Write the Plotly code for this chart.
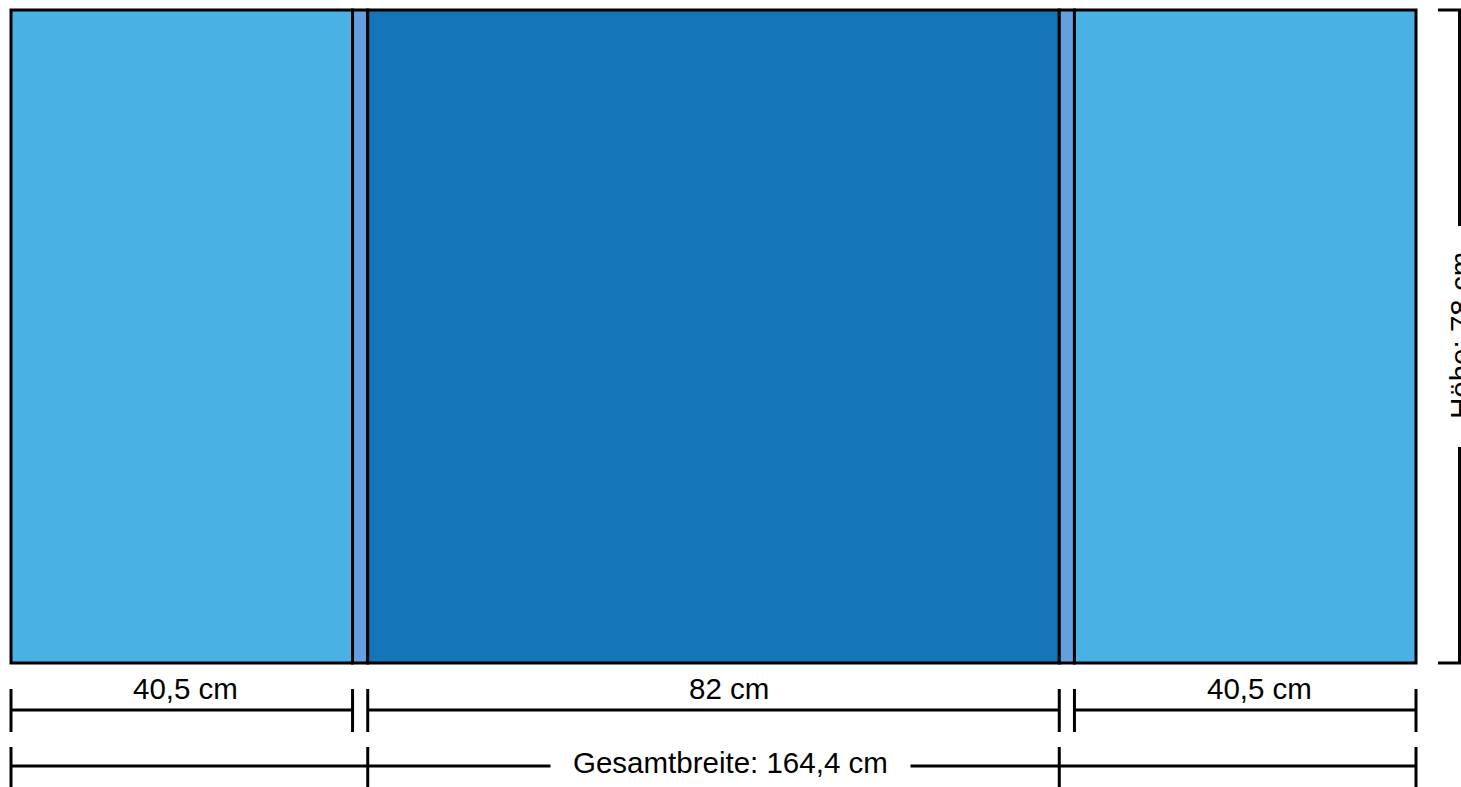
import plotly.graph_objects as go

# ---- data (cm) ----
panel_names = ["Links", "Fuge", "Mitte", "Fuge", "Rechts"]
panel_widths = [40.5, 1.8, 82, 1.8, 40.5]      # drawn widths
panel_labels = ["40,5 cm", None, "82 cm", None, "40,5 cm"]
panel_height = 78
total_label = "Gesamtbreite: 164,4 cm"
height_label = "Höhe: 78 cm"
panel_colors = ["#49b1e3", "#64a0de", "#1375b7", "#64a0de", "#49b1e3"]

# ---- layout geometry (pixels) ----
FW, FH = 1461, 787
LEFT_PX, RIGHT_PX, TOP_PX, BOT_PX = 11, 1416, 10, 663
label_xshift = [4, 0, 15, 0, 14]

total_w = sum(panel_widths)
sx = (RIGHT_PX - LEFT_PX) / total_w
sy = (BOT_PX - TOP_PX) / panel_height

def X(px):
    return (px - LEFT_PX) / sx

def Y(py):
    return (BOT_PX - py) / sy

edges = [0]
for w in panel_widths:
    edges.append(edges[-1] + w)

shapes = []
annotations = []
LINE = dict(color="black", width=3)

for i, w in enumerate(panel_widths):
    shapes.append(dict(type="rect", xref="x", yref="y",
                       x0=edges[i], x1=edges[i + 1], y0=0, y1=panel_height,
                       fillcolor=panel_colors[i], line=dict(color="black", width=3),
                       layer="above"))

FONT = dict(family="Liberation Sans, Arial, sans-serif", size=29.5, color="black")

# row 1 dimension lines
r1y, r1t0, r1t1 = Y(710), Y(689), Y(732)
for i, lab in enumerate(panel_labels):
    if lab is None:
        continue
    a, b = edges[i], edges[i + 1]
    shapes.append(dict(type="line", xref="x", yref="y", x0=a, x1=b, y0=r1y, y1=r1y, line=LINE))
    for xx in (a, b):
        shapes.append(dict(type="line", xref="x", yref="y", x0=xx, x1=xx, y0=r1t0, y1=r1t1, line=LINE))
    annotations.append(dict(x=(a + b) / 2, y=Y(688), xref="x", yref="y", text=lab,
                            showarrow=False, font=FONT, xanchor="center", yanchor="middle",
                            xshift=label_xshift[i]))

# row 2: total width
r2y, r2t0, r2t1 = Y(766), Y(747), Y(795)
mid = (edges[0] + edges[-1]) / 2 + 17 / sx
half_gap = 180 / sx
shapes.append(dict(type="line", xref="x", yref="y", x0=edges[0], x1=mid - half_gap, y0=r2y, y1=r2y, line=LINE))
shapes.append(dict(type="line", xref="x", yref="y", x0=mid + half_gap, x1=edges[-1], y0=r2y, y1=r2y, line=LINE))
for xx in (edges[0], edges[2], edges[3], edges[-1]):
    shapes.append(dict(type="line", xref="x", yref="y", x0=xx, x1=xx, y0=r2t0, y1=r2t1, line=LINE))
annotations.append(dict(x=mid, y=Y(762), xref="x", yref="y", text=total_label,
                        showarrow=False, font=FONT, xanchor="center", yanchor="middle"))

# vertical height dimension
vx = X(1459.5)
vt0, vt1 = X(1438), X(1462)
shapes.append(dict(type="line", xref="x", yref="y", x0=vx, x1=vx, y0=panel_height, y1=Y(226), line=LINE))
shapes.append(dict(type="line", xref="x", yref="y", x0=vx, x1=vx, y0=Y(447), y1=0, line=LINE))
for yy in (0, panel_height):
    shapes.append(dict(type="line", xref="x", yref="y", x0=vt0, x1=vt1, y0=yy, y1=yy, line=LINE))
annotations.append(dict(x=1460 / FW, y=(FH - 336) / FH, xref="paper", yref="paper",
                        text=height_label, textangle=-90, showarrow=False, font=FONT,
                        xanchor="center", yanchor="middle"))

fig = go.Figure()
fig.update_layout(
    width=FW, height=FH,
    margin=dict(l=0, r=0, t=0, b=0),
    paper_bgcolor="white", plot_bgcolor="white",
    xaxis=dict(range=[X(0), X(FW)], visible=False, fixedrange=True),
    yaxis=dict(range=[Y(FH), Y(0)], visible=False, fixedrange=True),
    shapes=shapes, annotations=annotations, showlegend=False,
)
fig.write_html("out.html", config={"displayModeBar": False},
               post_script="document.body.style.margin='0';document.body.style.overflow='hidden';")
